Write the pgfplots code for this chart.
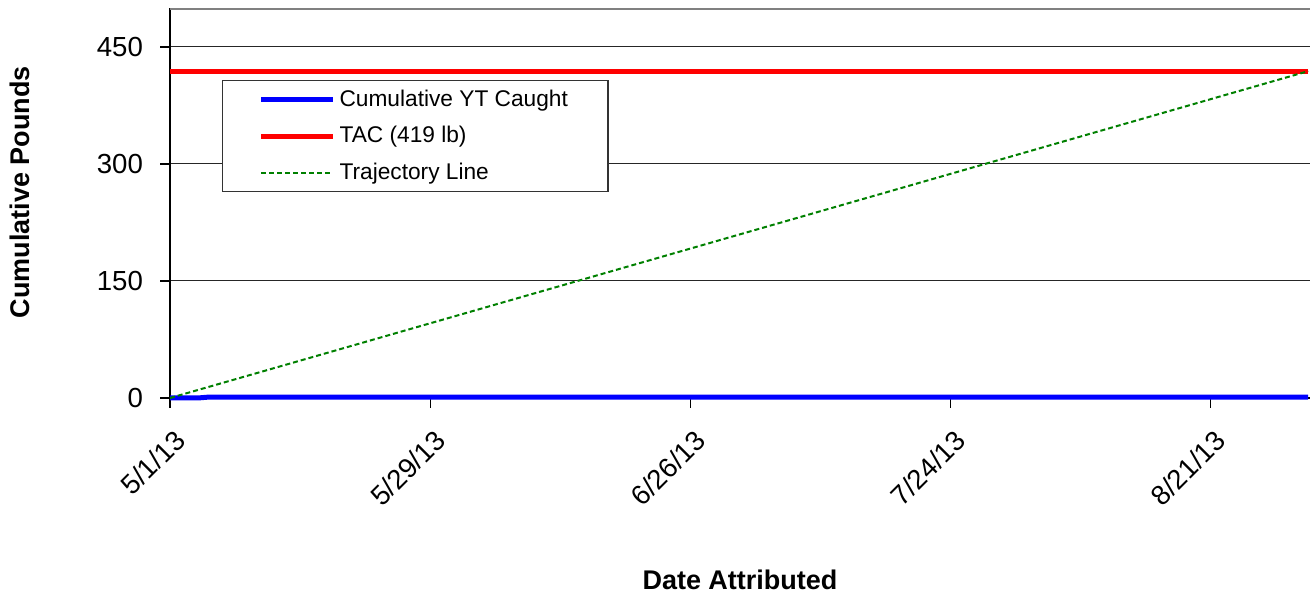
\documentclass[border=0pt]{standalone}
\usepackage{fontspec}
\setmainfont{Liberation Sans}
\usepackage{pgfplots}
\pgfplotsset{compat=1.18}
\definecolor{trajgreen}{RGB}{0,128,0}
\begin{document}
\begin{tikzpicture}
\path[use as bounding box] (0,0) rectangle (655pt,296.5pt);
\begin{axis}[
  at={(85pt,97.5pt)}, anchor=south west,
  scale only axis, width=570pt, height=195pt,
  xmin=0, xmax=122.7, ymin=0, ymax=500,
  axis x line*=bottom, axis y line*=left,
  axis line style={black, line width=0.8pt, -},
  xtick={0,28,56,84,112},
  xticklabels={5/1/13,5/29/13,6/26/13,7/24/13,8/21/13},
  ytick={0,150,300,450},
  ymajorgrids, grid style={black!85, line width=0.5pt},
  tick align=outside, major tick length=5pt,
  tick style={black, line width=0.6pt},
  /pgf/number format/assume math mode=true,
  ticklabel style={font=\fontsize{13.8}{16}\selectfont},
  yticklabel style={xshift=-5pt},
  xticklabel style={rotate=45, anchor=north east, inner sep=2pt, xshift=-4pt, yshift=-6pt},
  xlabel={\textbf{Date Attributed}},
  ylabel={\textbf{Cumulative Pounds}},
  label style={font=\fontsize{13.5}{16}\selectfont},
  xlabel style={at={(axis description cs:0.5,-0.467)}, anchor=center},
  ylabel style={at={(axis description cs:-0.1316,0.528)}, anchor=center, rotate=0},
  clip=false,
  legend style={at={(axis description cs:0.0456,0.815)}, anchor=north west,
    draw=black!80, line width=0.6pt, fill=white, inner xsep=18pt, inner ysep=2.5pt,
    font=\fontsize{11.35}{13.5}\selectfont, row sep=4.6pt},
  legend cell align=left,
  legend image code/.code={\draw[#1] (0pt,0pt) -- (36pt,0pt);},
]
\addplot[blue, line width=2.5pt] coordinates {(0,0) (3,0) (4,1) (122.5,1)};
\addlegendentry{Cumulative YT Caught}
\addplot[red, line width=2.5pt] coordinates {(0,419) (122.5,419)};
\addlegendentry{TAC (419 lb)}
\addplot[trajgreen, line width=1pt, dash pattern=on 2.5pt off 1.5pt] coordinates {(0,0) (122.5,419)};
\addlegendentry{Trajectory Line}
\end{axis}
\draw[gray, line width=1pt] (85pt,292pt) -- (655pt,292pt);
\end{tikzpicture}
\end{document}
